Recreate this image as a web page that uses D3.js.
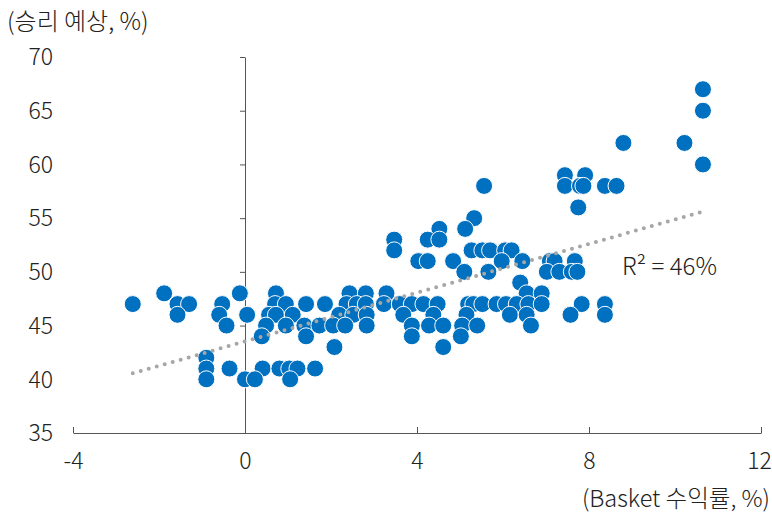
<!DOCTYPE html>
<html>
<head>
<meta charset="utf-8">
<script src="https://cdn.jsdelivr.net/npm/d3@7"></script>
<style>
  body { margin: 0; background: #fff; }
  text { font-family: "Noto Sans CJK KR", "Noto Sans", sans-serif; font-weight: 300; fill: #222; }
</style>
</head>
<body>
<div id="chart"></div>
<script>
const width = 772;
const height = 514;

// Basket 수익률 (%) -> 승리 예상 (%)
const basketReturn = [
  10.65, 10.65, 8.8, 10.22, 10.65,
  7.44, 7.91,
  5.56, 7.44, 7.79, 7.87, 8.37, 8.64,
  7.75, 5.33, 4.52, 5.12,
  3.47, 4.25, 4.52,
  3.47, 5.27, 5.52, 5.70, 6.05, 6.2,
  4.03, 4.25, 4.84, 5.97, 6.45, 7.09, 7.2, 7.67,
  5.10, 5.66, 7.02, 7.31, 7.6, 7.73,
  6.40,
  -1.88, -0.12, 0.72, 2.43, 2.81, 3.29, 6.55, 6.9,
  -2.61, -1.57, -1.30, -0.53, 0.70, 0.95, 1.42, 1.86, 2.36, 2.60, 2.81, 3.23, 3.60, 3.88, 4.15, 4.48,
  5.19, 5.31, 5.52, 5.85, 6.07, 6.32, 6.59, 6.90, 7.83, 8.37,
  -1.57, -0.60, 0.05, 0.56, 0.72, 1.11, 2.19, 2.52, 2.83, 3.68, 4.38, 5.15, 6.16, 6.55, 7.57, 8.37,
  -0.43, 0.49, 0.95, 1.38, 1.73, 2.05, 2.33, 2.83, 3.88, 4.28, 4.61, 5.05, 5.40, 6.65,
  0.39, 1.42, 3.88, 5.02,
  2.08, 4.61,
  -0.9,
  -0.9, -0.36, 0.41, 0.80, 1.03, 1.22, 1.63,
  -0.9, 0.0, 0.23, 1.05
];
const winProb = [
  67, 65, 62, 62, 60,
  59, 59,
  58, 58, 58, 58, 58, 58,
  56, 55, 54, 54,
  53, 53, 53,
  52, 52, 52, 52, 52, 52,
  51, 51, 51, 51, 51, 51, 51, 51,
  50, 50, 50, 50, 50, 50,
  49,
  48, 48, 48, 48, 48, 48, 48, 48,
  47, 47, 47, 47, 47, 47, 47, 47, 47, 47, 47, 47, 47, 47, 47, 47,
  47, 47, 47, 47, 47, 47, 47, 47, 47, 47,
  46, 46, 46, 46, 46, 46, 46, 46, 46, 46, 46, 46, 46, 46, 46, 46,
  45, 45, 45, 45, 45, 45, 45, 45, 45, 45, 45, 45, 45, 45,
  44, 44, 44, 44,
  43, 43,
  42,
  41, 41, 41, 41, 41, 41, 41,
  40, 40, 40, 40
];

const xTicks = [-4, 0, 4, 8, 12];
const yTicks = [35, 40, 45, 50, 55, 60, 65, 70];

// 추세선 (시작점, 끝점)
const trendX = [-2.61, 10.64];
const trendY = [40.56, 55.6];

const points = basketReturn.map((d, i) => ({ x: d, y: winProb[i] }));

const svg = d3.select("#chart").append("svg")
  .attr("width", width)
  .attr("height", height);

const x = d3.scaleLinear().domain([-4, 12]).range([73, 761]);
const y = d3.scaleLinear().domain([35, 70]).range([433, 57]);

const axisColor = "#555";

// x축
const xAxis = svg.append("g")
  .attr("transform", `translate(0,${y(35)})`)
  .call(d3.axisBottom(x).tickValues(xTicks).tickSizeInner(-6).tickSizeOuter(0).tickFormat(d => String(d)));
xAxis.select(".domain").attr("stroke", axisColor);
xAxis.selectAll(".tick line").attr("stroke", axisColor);
xAxis.selectAll(".tick text")
  .attr("y", 0).attr("dy", 36)
  .attr("dx", d => d === 12 ? -2 : 0)
  .style("font-size", "23px");

// y축 (x=0 위치)
const yAxis = svg.append("g")
  .attr("transform", `translate(${x(0)},0)`)
  .call(d3.axisLeft(y).tickValues(yTicks).tickSize(5).tickSizeOuter(0).tickFormat(""));
yAxis.select(".domain").attr("stroke", axisColor);
yAxis.selectAll(".tick line").attr("stroke", axisColor);

// y축 눈금 라벨은 왼쪽 끝에
svg.append("g")
  .selectAll("text")
  .data(yTicks)
  .enter().append("text")
  .attr("x", 53)
  .attr("y", d => y(d))
  .attr("dy", "0.36em")
  .attr("text-anchor", "end")
  .style("font-size", "23px")
  .text(d => d);

// 점
svg.append("g")
  .selectAll("circle")
  .data(points)
  .enter().append("circle")
  .attr("cx", d => x(d.x))
  .attr("cy", d => y(d.y))
  .attr("r", 8.5)
  .attr("fill", "#0070C0")
  .attr("stroke", "#fff")
  .attr("stroke-width", 1);

// 추세선
svg.append("line")
  .attr("x1", x(trendX[0]))
  .attr("y1", y(trendY[0]))
  .attr("x2", x(trendX[1]))
  .attr("y2", y(trendY[1]))
  .attr("stroke", "#a6a6a6")
  .attr("stroke-width", 4)
  .attr("stroke-linecap", "round")
  .attr("stroke-dasharray", "0 8.3");

svg.append("text")
  .attr("x", 622)
  .attr("y", 275)
  .style("font-size", "24px")
  .text("R\u00B2 = 46%");

// 축 제목
svg.append("text")
  .attr("x", 7)
  .attr("y", 30)
  .style("font-size", "24px")
  .text("(승리 예상, %)");

svg.append("text")
  .attr("x", 770)
  .attr("y", 507)
  .attr("text-anchor", "end")
  .style("font-size", "23.5px")
  .text("(Basket 수익률, %)");
</script>
</body>
</html>
